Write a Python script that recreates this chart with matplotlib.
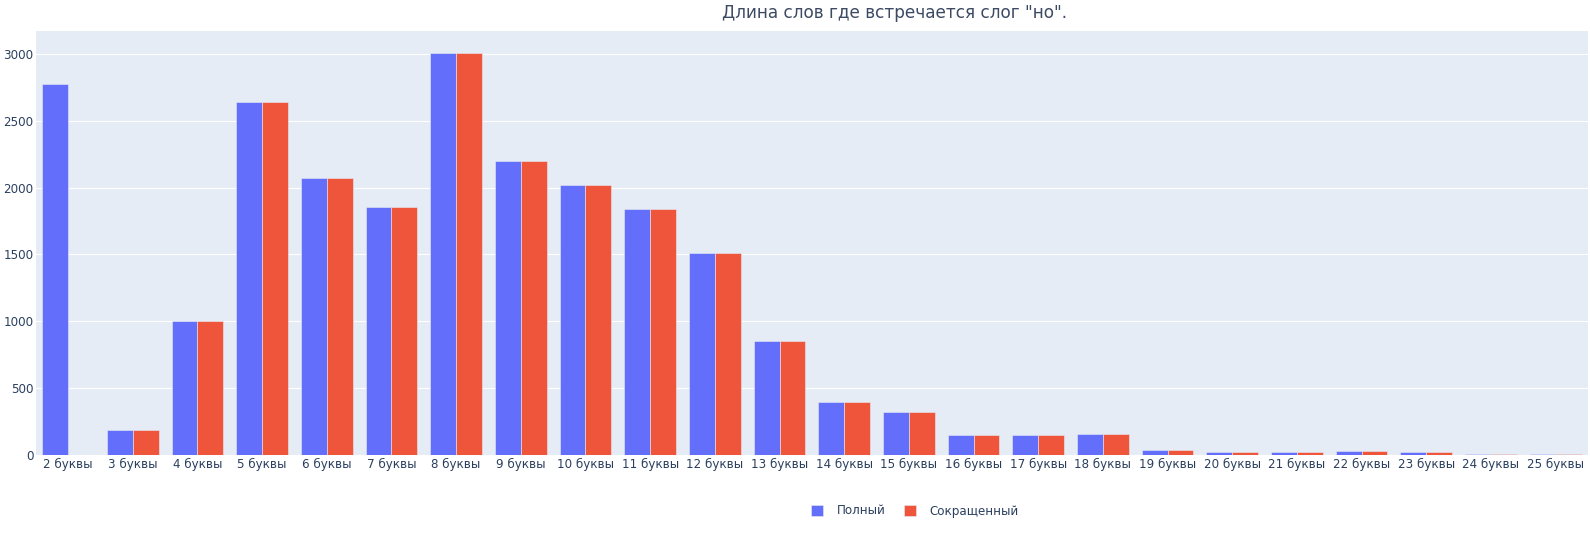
import matplotlib
matplotlib.use("Agg")
import matplotlib.pyplot as plt
from matplotlib.patches import Patch
import numpy as np

plt.rcParams['font.family'] = ['DejaVu Sans']

categories = [f"{n} буквы" for n in range(2, 26)]
full_vals = [2776, 182, 1000, 2643, 2071, 1859, 3013, 2203, 2023, 1843, 1509, 852,
             394, 317, 149, 145, 152, 32, 19, 19, 25, 17, 7, 6]
short_vals = [0, 182, 1000, 2643, 2071, 1859, 3013, 2203, 2023, 1843, 1509, 852,
              394, 317, 149, 145, 152, 32, 19, 19, 25, 17, 7, 6]
series_names = ["Полный", "Сокращенный"]
title = 'Длина слов где встречается слог "но".'

W, H = 1590, 534
fig = plt.figure(figsize=(W / 100, H / 100), dpi=100)
left, right, top, bottom = 35.7, 1588, 31.3, 454.6
ax = fig.add_axes([left / W, 1 - bottom / H, (right - left) / W, (bottom - top) / H])

bg = "#E5ECF6"
txt = "#2a3f5f"
c1, c2 = "#636EFA", "#EF553B"
ax.set_facecolor(bg)

x = np.arange(len(categories))
bw = 0.4
ax.bar(x - bw / 2, full_vals, width=bw, color=c1, edgecolor=bg, linewidth=0.4, zorder=3)
ax.bar(x + bw / 2, short_vals, width=bw, color=c2, edgecolor=bg, linewidth=0.4, zorder=3)

ax.set_xlim(-0.5, len(categories) - 0.5)
ax.set_ylim(0, 3173)
ax.set_yticks([0, 500, 1000, 1500, 2000, 2500, 3000])
ax.set_xticks(x)
ax.set_xticklabels(categories)
ax.grid(axis="y", color="white", linewidth=0.8, zorder=0)
ax.set_axisbelow(True)
for s in ax.spines.values():
    s.set_visible(False)
ax.tick_params(axis="both", length=0, labelsize=8.6, colors=txt)
ax.tick_params(axis="y", pad=1.5)
ax.tick_params(axis="x", pad=2.5)

fig.text(895 / W, 1 - 13 / H, title, ha="center", va="center", fontsize=12.2, color="#3c4a63")

handles = [Patch(facecolor=c1, edgecolor=bg, linewidth=0.4),
           Patch(facecolor=c2, edgecolor=bg, linewidth=0.4)]
leg = fig.legend(handles, series_names, loc="center", bbox_to_anchor=(915 / W, 1 - 511 / H),
                 ncol=2, frameon=False, fontsize=8.6, handlelength=1.0, handleheight=1.0,
                 handletextpad=1.1, columnspacing=1.6, labelcolor=txt)

fig.savefig("out.png", dpi=100, facecolor="white")
